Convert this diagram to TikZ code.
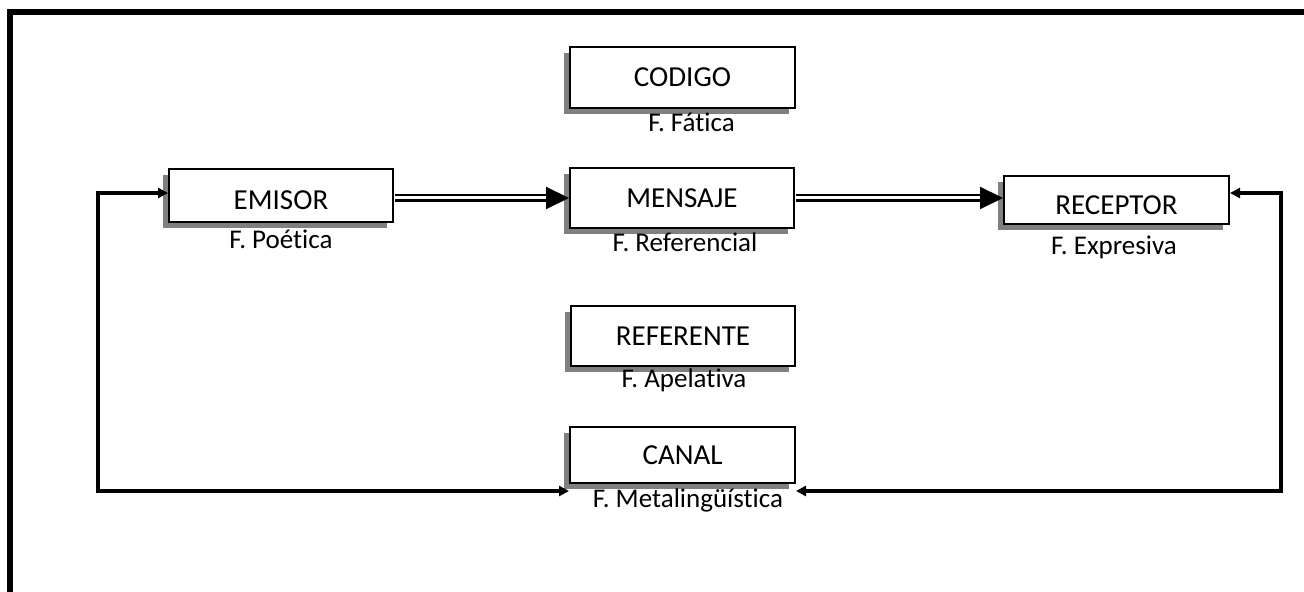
\documentclass[tikz,border=0pt]{standalone}
\usepackage{fontspec}
\setmainfont{Carlito}[Ligatures=NoCommon]
\usetikzlibrary{arrows.meta,shadows}

\tikzset{
  caja/.style={draw, line width=1pt, fill=white, font=\fontsize{14.5}{17}\selectfont,
    drop shadow={shadow xshift=-3pt, shadow yshift=-3pt, fill=black!50, opacity=1}},
  funcion/.style={anchor=base, font=\fontsize{13.5}{16}\selectfont},
  doble/.style={double, double distance=1.5pt, line width=1.2pt, shorten <=0.5pt, shorten >=10pt},
  punta/.style={draw=white, line width=1pt, shorten <=1pt, -{Triangle[length=11.5pt,width=11pt,color=black]}},
  retorno/.style={line width=2pt, {Triangle[length=5pt,width=5pt]}-{Triangle[length=5pt,width=5pt]}}
}

\begin{document}
\begin{tikzpicture}[x=0.5pt,y=-0.5pt]
	\useasboundingbox (0,0) rectangle (1304,592);
	% marco
	\draw[line width=3pt] (1304,12.5) -- (10,12.5) -- (10,592);

	\node[caja, minimum width=112.5pt, minimum height=30.5pt] (codigo) at (682.5,77.5) {CODIGO};
	\node[caja, minimum width=112pt, minimum height=26.5pt, text height=14pt] (emisor) at (281,195.5) {EMISOR};
	\node[caja, minimum width=112pt, minimum height=30pt] (mensaje) at (682,198) {MENSAJE};
	\node[caja, minimum width=112.5pt, minimum height=24pt, text height=15pt] (receptor) at (1116.5,200) {RECEPTOR};
	\node[caja, minimum width=112pt, minimum height=30pt] (referente) at (683,336) {REFERENTE};
	\node[caja, minimum width=112.5pt, minimum height=28pt] (canal) at (682.5,455) {CANAL};

	\node[funcion] (fcodigo) at (691.5,132) {F. Fática};
	\node[funcion] (femisor) at (281,249) {F. Poética};
	\node[funcion] (fmensaje) at (685,252) {F. Referencial};
	\node[funcion] (freceptor) at (1114,255) {F. Expresiva};
	\node[funcion] (freferente) at (684,387) {F. Apelativa};
	\node[funcion] (fcanal) at (688,507) {F. Metalingüística};

	\coordinate (flujo) at (0,198);
	\coordinate (alto) at (0,193);
	\coordinate (bajo) at (0,491);
	\coordinate (esqizq) at (98,491);
	\coordinate (esqder) at (1281,491);

	\draw[doble] (emisor.east |- flujo) -- (mensaje.west |- flujo);
	\draw[punta] (emisor.east |- flujo) -- (mensaje.west |- flujo);
	\draw[doble] (mensaje.east |- flujo) -- (receptor.west |- flujo);
	\draw[punta] (mensaje.east |- flujo) -- (receptor.west |- flujo);

	\draw[retorno] (canal.west |- bajo) -- (esqizq) |- (emisor.west |- alto);
	\draw[retorno] (canal.east |- bajo) -- (esqder) |- (receptor.east |- alto);
\end{tikzpicture}
\end{document}
